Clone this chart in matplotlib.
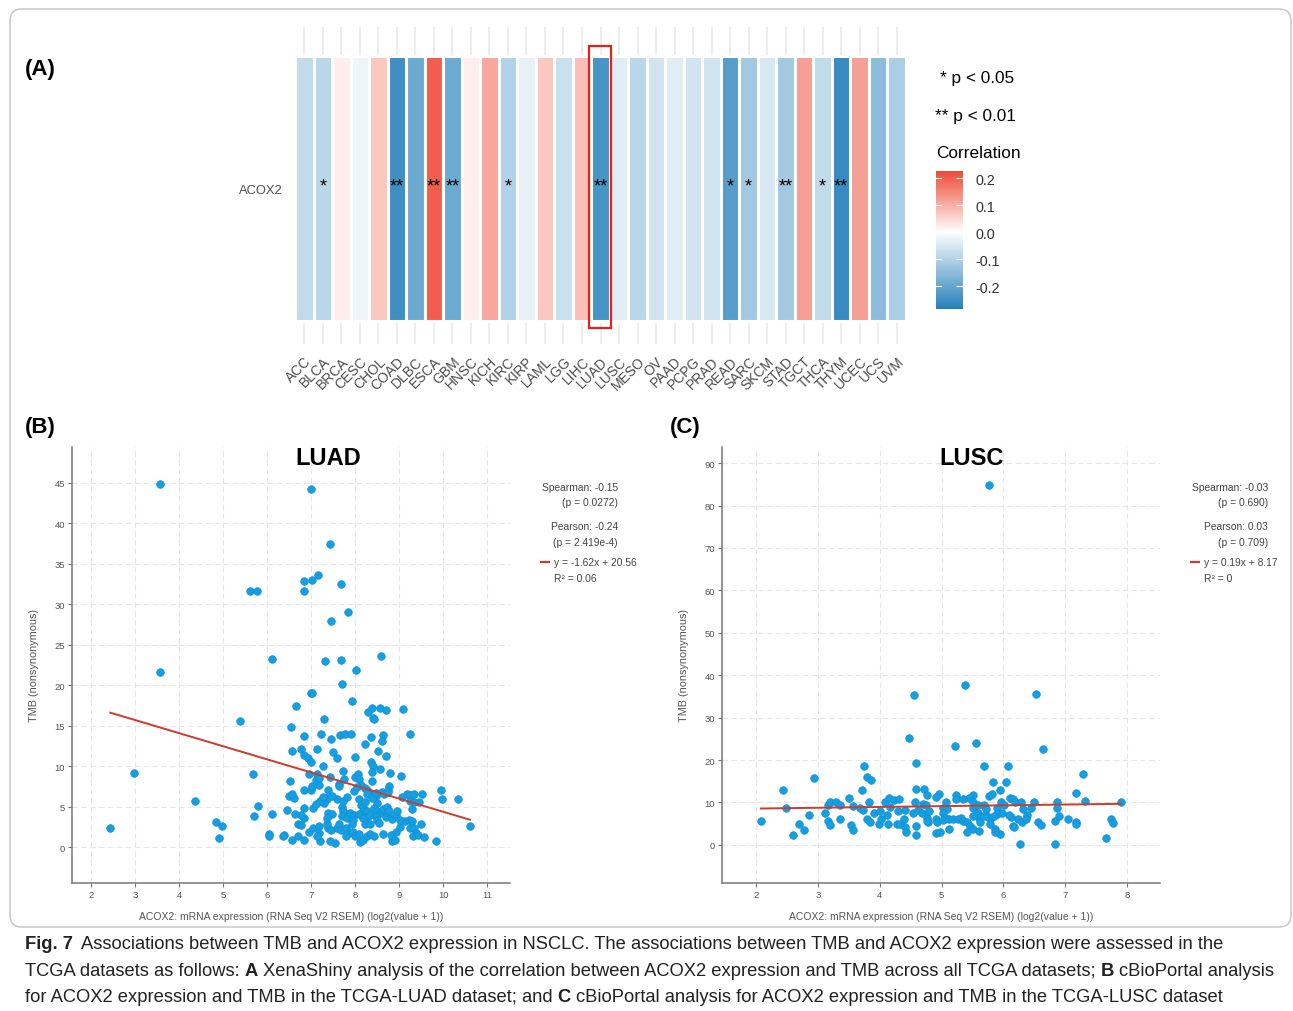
import numpy as np
import matplotlib
matplotlib.use("Agg")
import matplotlib.pyplot as plt
from matplotlib.colors import LinearSegmentedColormap, Normalize
from matplotlib.patches import Rectangle, FancyBboxPatch
from matplotlib.lines import Line2D
import matplotlib.cm as cm

plt.rcParams["font.family"] = ["Liberation Sans", "DejaVu Sans"]

# ---------------- data ----------------
cancer_types = ["ACC", "BLCA", "BRCA", "CESC", "CHOL", "COAD", "DLBC", "ESCA", "GBM", "HNSC",
                "KICH", "KIRC", "KIRP", "LAML", "LGG", "LIHC", "LUAD", "LUSC", "MESO", "OV",
                "PAAD", "PCPG", "PRAD", "READ", "SARC", "SKCM", "STAD", "TGCT", "THCA", "THYM",
                "UCEC", "UCS", "UVM"]
corr_values = [-0.08, -0.09, 0.02, -0.02, 0.07, -0.25, -0.19, 0.20, -0.19, 0.02,
               0.11, -0.10, -0.03, 0.07, -0.07, 0.08, -0.24, -0.04, -0.09, -0.06,
               -0.04, -0.06, -0.06, -0.22, -0.12, -0.05, -0.12, 0.12, -0.08, -0.26,
               0.12, -0.15, -0.11]
signif = ["", "*", "", "", "", "**", "", "**", "**", "",
          "", "*", "", "", "", "", "**", "", "", "",
          "", "", "", "*", "*", "", "**", "", "*", "**",
          "", "", ""]
corr_ticks = [0.2, 0.1, 0.0, -0.1, -0.2]

luad_x = [3.58, 3.58, 5.61, 5.77, 6.11, 5.39, 2.98, 5.68, 4.36, 5.80, 5.71, 6.11, 2.44, 4.85, 4.98, 4.91, 6.04, 6.04,
          7.00, 7.42, 6.85, 7.03, 7.16, 6.83, 7.69, 7.85, 7.45, 7.32, 7.69, 8.58, 8.02, 7.70, 7.00, 7.03, 7.93, 6.66,
          7.30, 6.54, 8.29, 8.39, 8.56, 8.71, 9.08, 8.41, 8.44, 9.24, 6.85, 7.22, 7.45, 7.65, 7.77, 7.91, 6.56, 6.77,
          6.85, 6.92, 7.01, 7.13, 7.51, 7.59, 8.00, 8.22, 8.37, 8.63, 8.61, 8.52, 8.70, 8.36, 8.40, 8.39, 8.57, 8.80,
          9.05, 6.95, 7.13, 7.27, 7.11, 7.17, 7.19, 6.53, 7.42, 7.73, 7.76, 7.64, 7.99, 8.06, 8.10, 8.14, 8.39, 8.77,
          8.74, 6.83, 7.00, 7.03, 7.38, 7.33, 7.37, 7.29, 7.63, 6.51, 6.62, 6.56, 6.45, 6.64, 6.83, 6.83, 6.77, 7.05,
          6.71, 6.77, 6.39, 6.37, 6.56, 6.71, 6.83,
          6.96, 7.05, 7.17, 7.19, 7.20, 7.13, 7.38, 7.37, 7.43, 7.55, 7.46, 7.58, 7.39, 7.48, 7.36, 7.70, 7.73, 7.70,
          7.81, 7.89, 7.98, 7.95, 7.63, 7.69, 7.79, 7.86, 7.79, 7.95, 8.00, 8.08, 7.92,
          8.11, 8.17, 8.27, 8.34, 8.43, 8.64, 8.83, 8.91, 8.81, 8.93, 9.02, 9.14, 9.23, 9.30, 9.25, 9.34, 9.39, 9.31,
          9.42, 9.50, 9.57, 9.84, 10.61,
          8.10, 8.13, 8.17, 8.23, 8.19, 8.27, 8.10, 8.28, 8.34, 8.17, 8.23, 8.34, 8.48, 8.51, 8.43, 8.49, 8.57, 8.48,
          8.51, 8.55, 8.64, 8.72, 8.73, 8.70, 8.77, 8.83, 8.93, 8.95, 9.01, 9.06, 9.17, 9.25, 9.33, 9.25, 9.33, 9.29,
          9.52, 9.45, 9.96, 9.98, 10.35,
          8.23, 8.28, 8.34, 8.27, 8.38, 8.48, 8.61, 8.66, 8.75, 7.97, 8.05,
          7.20, 7.28, 7.58, 7.73, 7.81, 7.47, 7.11]
luad_y = [44.9, 21.6, 31.7, 31.7, 23.2, 15.6, 9.2, 9.0, 5.7, 5.1, 3.8, 4.1, 2.4, 3.1, 2.6, 1.1, 1.6, 1.3,
          44.3, 37.4, 32.9, 33.0, 33.6, 31.6, 32.5, 29.0, 27.9, 23.0, 23.1, 23.6, 21.9, 20.1, 19.0, 19.0, 18.1, 17.4,
          15.8, 14.8, 16.7, 17.2, 17.2, 16.9, 17.0, 16.0, 15.8, 14.0, 13.7, 14.0, 13.4, 13.8, 14.0, 14.0, 11.9, 12.1,
          11.4, 11.0, 10.5, 12.1, 11.8, 11.0, 11.1, 12.7, 13.6, 13.8, 13.1, 11.9, 11.3, 10.5, 10.0, 9.3, 9.7, 9.1,
          8.8, 9.0, 9.0, 10.0, 8.3, 7.7, 8.5, 8.1, 8.6, 9.4, 8.4, 7.8, 8.7, 9.0, 8.4, 7.7, 8.2, 7.5,
          7.1, 7.0, 7.0, 7.6, 7.0, 6.1, 5.9, 5.4, 7.6, 6.3, 6.0, 6.5, 4.6, 4.1, 4.8, 3.6, 3.9, 4.8,
          2.9, 2.7, 1.5, 1.3, 0.9, 1.3, 0.9,
          1.9, 2.4, 2.6, 1.7, 0.7, 1.3, 2.4, 2.8, 0.8, 0.5, 2.1, 2.4, 4.2, 4.1, 3.6, 5.0, 4.4, 3.8,
          3.6, 4.2, 4.0, 3.4, 2.8, 2.1, 2.4, 1.7, 1.3, 1.9, 1.3, 1.6, 2.8,
          0.6, 0.9, 1.3, 1.6, 1.3, 1.6, 0.8, 0.9, 1.45, 1.9, 2.5, 3.2, 3.3, 3.2, 2.4, 2.4, 1.7, 1.4,
          1.5, 2.9, 1.2, 0.8, 2.6,
          5.9, 5.25, 4.9, 5.6, 4.4, 4.5, 4.1, 3.7, 3.9, 3.6, 2.8, 2.9, 6.3, 5.5, 4.8, 4.5, 4.2, 3.8,
          3.4, 3.0, 4.75, 4.9, 4.1, 3.7, 4.4, 3.5, 3.9, 4.4, 3.4, 6.2, 6.5, 6.4, 6.6, 5.7, 5.6, 4.7,
          6.5, 5.6, 7.1, 5.9, 5.9,
          7.3, 7.0, 6.7, 6.5, 6.1, 6.7, 6.8, 6.5, 6.8, 6.9, 7.4,
          5.7, 6.2, 5.9, 5.7, 6.2, 6.3, 5.3]

lusc_x = [2.08, 2.44, 2.48, 2.60, 2.69, 2.78, 2.86, 2.94, 3.11, 3.17, 3.20, 3.17, 3.20, 3.29, 3.35, 3.35, 3.51,
          3.57, 3.54, 3.57, 3.68, 3.72, 3.74, 3.79, 3.86, 3.73, 3.83, 3.79, 3.84, 3.91, 3.98, 4.02, 4.01, 4.09,
          4.11, 4.14, 4.15, 4.17, 4.23, 4.31, 4.28, 4.33, 4.30, 4.39, 4.41, 4.41, 4.42, 4.47, 4.55, 4.59, 4.58,
          4.57, 4.54, 4.59, 4.59, 4.72, 4.77, 4.70, 4.74, 4.62, 4.68, 4.77, 4.78,
          5.76, 5.37, 6.52, 5.22, 5.56, 6.64, 5.68, 6.07, 7.28, 5.83, 6.04, 5.95, 7.17, 7.32, 7.90, 4.96, 4.91,
          5.24, 5.24, 5.51, 5.45, 5.35, 5.77, 5.81, 6.10, 6.15, 6.49, 6.86, 5.07,
          5.51, 5.69, 5.96, 6.01, 6.18, 6.29, 6.45, 5.03, 5.09, 5.50, 5.59, 5.72, 5.90, 6.86, 6.31, 4.80,
          5.59, 5.73, 5.90, 5.97, 5.61, 5.78, 5.84, 6.12, 6.16, 6.17, 6.24, 6.30, 6.38, 6.37, 6.09,
          4.76, 4.91, 4.92, 5.02, 5.05, 5.03, 5.12, 5.19, 5.26, 5.32, 5.35, 5.41, 5.46, 5.51, 5.41, 5.51, 5.62,
          5.68, 5.78, 5.86, 5.95, 5.86, 4.91, 4.97, 5.12, 5.61,
          6.56, 6.61, 6.26, 6.84, 6.90, 6.84, 7.04, 7.17, 7.17, 7.74, 7.77, 7.66]
lusc_y = [5.65, 13.0, 8.6, 2.4, 4.9, 3.5, 7.1, 15.7, 7.4, 5.7, 4.6, 9.3, 10.0, 10.0, 9.3, 6.2, 11.1,
          9.2, 4.6, 3.5, 8.7, 12.9, 18.7, 16.1, 15.3, 8.2, 10.1, 6.2, 5.5, 7.5, 4.8, 6.0, 7.9, 10.0,
          7.1, 5.0, 11.1, 9.0, 10.6, 10.9, 4.9, 4.9, 7.9, 6.0, 8.2, 4.2, 3.1, 25.2, 35.4, 19.2, 13.2,
          10.1, 7.4, 4.5, 2.3, 13.2, 11.7, 9.7, 9.3, 8.2, 7.6, 6.4, 5.3,
          84.8, 37.7, 35.6, 23.3, 24.0, 22.6, 18.5, 18.5, 16.8, 14.9, 14.8, 13.0, 12.3, 10.4, 10.1, 11.9, 11.3,
          11.7, 10.9, 11.7, 11.1, 10.8, 11.5, 11.9, 11.1, 10.9, 10.1, 10.1, 10.1,
          10.0, 9.3, 10.0, 9.3, 10.0, 10.0, 8.8, 8.8, 8.4, 8.8, 9.3, 8.4, 8.7, 8.8, 8.4, 7.9,
          7.6, 6.8, 7.2, 7.6, 6.4, 6.0, 6.8, 6.6, 4.5, 4.1, 6.0, 5.4, 7.0, 6.0, 7.0,
          5.7, 6.0, 5.3, 7.6, 6.4, 5.8, 6.0, 6.0, 6.0, 6.4, 5.65, 5.3, 4.5, 3.7, 3.1, 6.8, 5.4,
          6.8, 4.9, 3.7, 2.5, 3.1, 2.9, 3.1, 3.7, 3.2,
          5.4, 4.6, 0.2, 5.7, 6.8, 0.2, 6.0, 5.4, 4.9, 6.0, 5.1, 1.6]

luad_stats = ["Spearman: -0.15", "(p = 0.0272)", "Pearson: -0.24", "(p = 2.419e-4)",
              "y = -1.62x + 20.56", "R\u00b2 = 0.06"]
luad_fit = (-1.62, 20.56)
lusc_stats = ["Spearman: -0.03", "(p = 0.690)", "Pearson: 0.03", "(p = 0.709)",
              "y = 0.19x + 8.17", "R\u00b2 = 0"]
lusc_fit = (0.19, 8.17)

# ---------------- figure ----------------
W, H = 1293, 1012
fig = plt.figure(figsize=(W / 100, H / 100), dpi=100)


def fx(px):
    return px / W


def fy(py):
    return 1 - py / H


def ftext(x, y, s, **kw):
    return fig.text(fx(x), fy(y), s, **kw)


# frame round the figure panels
fig.patches.append(FancyBboxPatch((0.10, 0.84), 12.81, 9.18,
                                  boxstyle="round,pad=0,rounding_size=0.12",
                                  transform=fig.dpi_scale_trans, fill=False,
                                  ec="#c4c4c4", lw=1.0))

# ---------------- (A) heatmap ----------------
vmin, vmax = -0.285, 0.226
cmap = LinearSegmentedColormap.from_list(
    "corr", [(0, "#2580ba"), (-vmin / (vmax - vmin), "#ffffff"), (1, "#ee4a36")])
norm = Normalize(vmin, vmax)

axh = fig.add_axes([fx(295), fy(345), 611 / W, 317 / H])
xs = np.arange(len(cancer_types))
axh.bar(xs, 0.836, bottom=0.0726, width=1.0, color=cmap(norm(np.array(corr_values))),
        edgecolor="white", linewidth=2.2, zorder=2)
for i, s in enumerate(signif):
    if s:
        axh.text(i, 0.50, s, ha="center", va="center", fontsize=13, color="black", zorder=3)
axh.set_xlim(-0.5, len(cancer_types) - 0.5)
axh.set_ylim(0, 1)
axh.set_xticks(xs)
axh.set_xticklabels(cancer_types, rotation=45, ha="right", va="top",
                    rotation_mode="anchor", fontsize=10, color="#4d4d4d")
axh.set_yticks([0.492])
axh.set_yticklabels(["ACOX2"], fontsize=9.3, color="#4d4d4d")
axh.tick_params(length=0, pad=9)
axh.tick_params(axis="x", pad=7)
axh.grid(axis="x", color="#e8e8e8", lw=1.1)
axh.set_axisbelow(True)
for sp in axh.spines.values():
    sp.set_visible(False)
iluad = cancer_types.index("LUAD")
axh.add_patch(Rectangle((iluad - 0.61, 0.05), 1.19, 0.89, fill=False, ec="#e3231b",
                        lw=1.6, clip_on=False, zorder=4))

ftext(25, 70, "(A)", fontsize=16, fontweight="bold", va="center")

# legend
ftext(940, 78, "* p < 0.05", fontsize=12.4, va="center")
ftext(935, 117, "** p < 0.01", fontsize=12.4, va="center")
ftext(936, 154, "Correlation", fontsize=12.4, va="center")
cax = fig.add_axes([fx(936), fy(310), 27 / W, 138 / H])
cb = fig.colorbar(cm.ScalarMappable(norm=norm, cmap=cmap), cax=cax)
cb.outline.set_visible(False)
cb.set_ticks(corr_ticks)
cb.set_ticklabels([f"{t:.1f}" for t in corr_ticks])
cax.tick_params(direction="in", length=5, color="white", width=0.8, pad=9,
                labelsize=10.4, labelcolor="#333333")
for t in corr_ticks:
    cax.plot([0, 0.2], [t, t], transform=cax.get_yaxis_transform(), color="white", lw=0.8)


# ---------------- (B)/(C) scatter panels ----------------
def scatter_panel(left, x, y, fit, xticks, yticks, xlim, ylim, title, tx, stats, sx):
    ax = fig.add_axes([fx(left), fy(884), 438 / W, 436 / H])
    ax.scatter(x, y, s=30, color="#159fe3", edgecolors="#0f8fd2", linewidths=0.5, zorder=3)
    xx = np.array([min(x), max(x)])
    ax.plot(xx, fit[0] * xx + fit[1], color="#cc3b2b", lw=1.4, zorder=4)
    ax.set_xlim(*xlim)
    ax.set_ylim(*ylim)
    ax.set_xticks(xticks)
    ax.set_yticks(yticks)
    ax.grid(True, linestyle=(0, (5, 3)), color="#e6e6e6", lw=0.8)
    ax.set_axisbelow(True)
    for sp in ("top", "right"):
        ax.spines[sp].set_visible(False)
    for sp in ("left", "bottom"):
        ax.spines[sp].set_color("#777777")
        ax.spines[sp].set_linewidth(1.1)
    ax.tick_params(length=3, color="#777777", labelsize=6.8, labelcolor="#555555", pad=2)
    ax.set_xlabel("ACOX2: mRNA expression (RNA Seq V2 RSEM) (log2(value + 1))",
                  fontsize=7.5, color="#555555", labelpad=9)
    ax.set_ylabel("TMB (nonsynonymous)", fontsize=7.8, color="#555555", labelpad=11)
    ftext(tx, 459, title, fontsize=17, fontweight="bold", ha="center", va="center")
    kw = dict(fontsize=7.4, color="#444444", va="center")
    ftext(sx + 77, 488, stats[0], ha="right", **kw)
    ftext(sx + 77, 503, stats[1], ha="right", **kw)
    ftext(sx + 77, 527, stats[2], ha="right", **kw)
    ftext(sx + 77, 543, stats[3], ha="right", **kw)
    fig.add_artist(Line2D([fx(sx), fx(sx + 8)], [fy(563), fy(563)], color="#cc3b2b", lw=1.6))
    ftext(sx + 13, 563, stats[4], ha="left", **kw)
    ftext(sx + 13, 579, stats[5], ha="left", **kw)
    return ax


scatter_panel(72, luad_x, luad_y, luad_fit, range(2, 12), range(0, 50, 5),
              (1.57, 11.52), (-4.45, 49.45), "LUAD", 328, luad_stats, 541)
scatter_panel(722, lusc_x, lusc_y, lusc_fit, range(2, 9), range(0, 100, 10),
              (1.45, 8.53), (-9.0, 93.8), "LUSC", 972, lusc_stats, 1191)

ftext(25, 428, "(B)", fontsize=16, fontweight="bold", va="center")
ftext(670, 428, "(C)", fontsize=16, fontweight="bold", va="center")

# ---------------- caption ----------------
cap_family = ["Liberation Sans Narrow", "Liberation Sans", "DejaVu Sans"]
caption = [
    (949, [("Fig. 7", True),
           ("Associations between TMB and ACOX2 expression in NSCLC. The associations between TMB and "
            "ACOX2 expression were assessed in the", False)]),
    (976, [("TCGA datasets as follows:", False), ("A", True),
           ("XenaShiny analysis of the correlation between ACOX2 expression and TMB across all TCGA "
            "datasets;", False), ("B", True), ("cBioPortal analysis", False)]),
    (1002, [("for ACOX2 expression and TMB in the TCGA-LUAD dataset; and", False), ("C", True),
            ("cBioPortal analysis for ACOX2 expression and TMB in the TCGA-LUSC dataset", False)]),
]

renderer = fig.canvas.get_renderer()


def measure(s, bold, fs):
    t = fig.text(0, 0, s, fontsize=fs, family=cap_family, fontweight="bold" if bold else "normal")
    w = t.get_window_extent(renderer=renderer).width
    t.remove()
    return w


def line_width(parts, fs):
    sp = measure("a a", False, fs) - measure("aa", False, fs)
    return sum(measure(s, b, fs) for s, b in parts) + sp * (len(parts) - 1)


fs0 = 10
cap_fs = fs0 * (1253 / line_width(caption[1][1], fs0))
space = measure("a a", False, cap_fs) - measure("aa", False, cap_fs)
for yb, parts in caption:
    x = 25
    for k, (s, b) in enumerate(parts):
        ftext(x, yb, s, fontsize=cap_fs, family=cap_family,
              fontweight="bold" if b else "normal", va="baseline", ha="left", color="#222222")
        x += measure(s, b, cap_fs) + space * (1.6 if (k == 0 and s.startswith("Fig")) else 1)

fig.savefig("out.png", dpi=100)
